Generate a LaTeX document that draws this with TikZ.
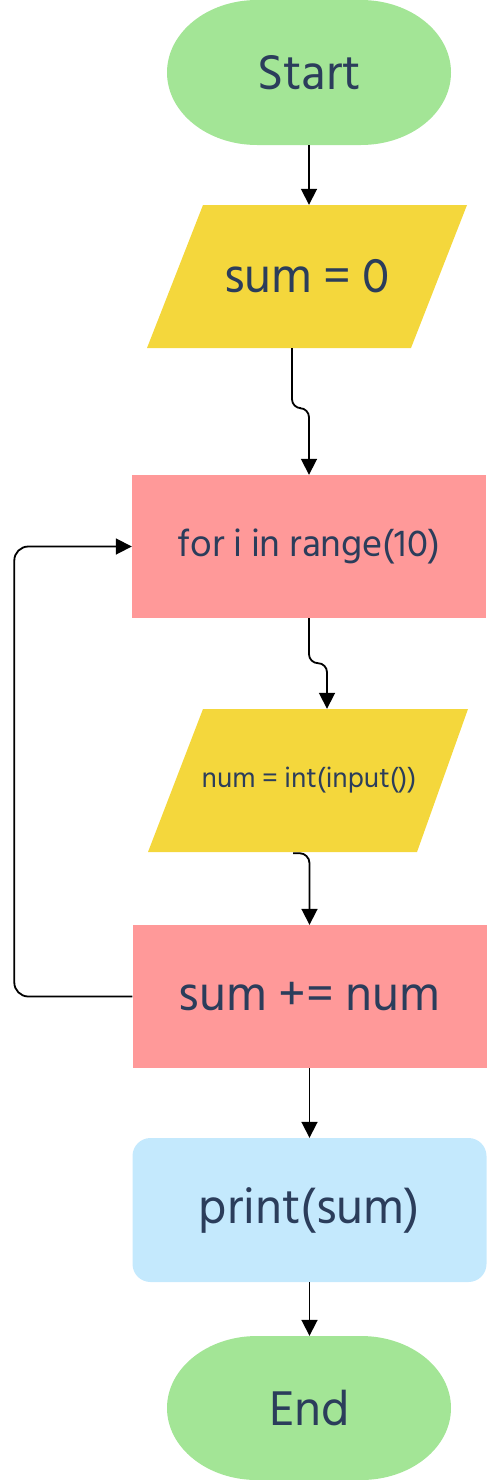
\documentclass[tikz,border=0pt]{standalone}
\usepackage{fontspec}
\setmainfont{Hind Siliguri}
\usetikzlibrary{arrows.meta}
\definecolor{tgreen}{HTML}{A3E596}
\definecolor{tyellow}{HTML}{F4D73C}
\definecolor{tpink}{HTML}{FF9999}
\definecolor{tblue}{HTML}{C4E9FD}
\definecolor{tnavy}{HTML}{2B3D5B}
\begin{document}
\begin{tikzpicture}[x=1pt,y=-1pt,
  txt/.style={text=tnavy, inner sep=0pt, font=\fontsize{50}{58}\selectfont},
  procbox/.style={txt, rectangle, minimum width=354pt, minimum height=143pt},
  conn/.style={draw=black, line width=1.8pt, -{Triangle[width=16pt,length=16pt]}},
  terminal/.style={fill=tgreen},
  iobox/.style={fill=tyellow}]
\useasboundingbox (0,0) rectangle (488,1480);

% Start terminal
\fill[terminal] (257,0) -- (361,0) arc[start angle=-90,end angle=90,x radius=90,y radius=72.5]
  -- (257,145) arc[start angle=90,end angle=270,x radius=90,y radius=72.5] -- cycle;
\node[txt, minimum width=284pt, minimum height=145pt] (start) at (309,72.5) {Start};

% sum = 0
\fill[iobox] (203,205) -- (467,205) -- (411,348) -- (147,348) -- cycle;
\node[txt, minimum width=320pt, minimum height=143pt] (init) at (307,276.5) {sum = 0};

% for loop
\node[procbox, fill=tpink, font=\fontsize{38.5}{44}\selectfont] (loop) at (309,546.5) {for i in range(10)};

% input
\fill[iobox] (203,709) -- (468,709) -- (417,852) -- (148,852) -- cycle;
\node[txt, minimum width=320pt, minimum height=143pt, font=\fontsize{28.5}{34}\selectfont] (inp) at (309,780.5) {num = int(input())};

% sum += num
\node[procbox, fill=tpink] (acc) at (309.5,996.5) {sum += num};

% print
\node[procbox, fill=tblue, rounded corners=18pt, minimum height=144pt] (out) at (309.5,1210) {print(sum)};

% End terminal
\fill[terminal] (257,1336) -- (361,1336) arc[start angle=-90,end angle=90,x radius=90,y radius=72]
  -- (257,1480) arc[start angle=90,end angle=270,x radius=90,y radius=72] -- cycle;
\node[txt, minimum width=284pt, minimum height=144pt] (end) at (309.5,1408) {End};

% connectors
\draw[conn] (start.south) -- (start.south |- init.north);
\draw[conn, rounded corners=9pt] ([xshift=-15pt]init.south) -- ++(0,60) -| (loop.north);
\draw[conn, rounded corners=9pt] (loop.south) -- ++(0,45) -| ([xshift=18pt]inp.north);
\draw[conn, rounded corners=10pt] ([xshift=-16pt,yshift=-1pt]inp.south) -| (acc.north);
\draw[conn] (acc.south) -- (out.north);
\draw[conn] (out.south) -- (end.north);
\draw[conn, rounded corners=14pt] (acc.west) -- ++(-118,0) |- (loop.west);
\end{tikzpicture}
\end{document}
